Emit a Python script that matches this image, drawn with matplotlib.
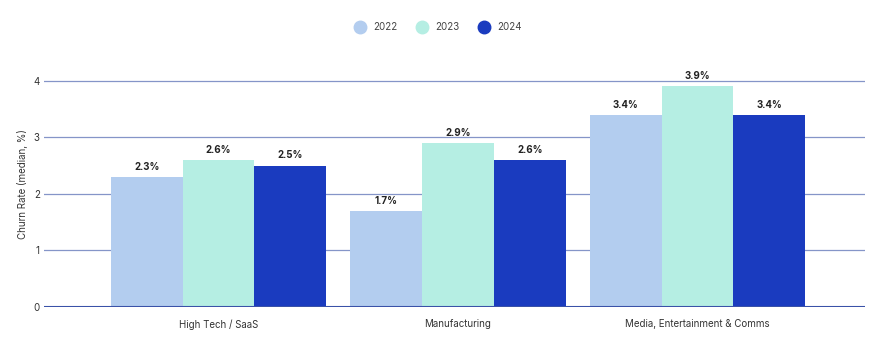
import numpy as np
import matplotlib.pyplot as plt
from matplotlib.lines import Line2D

plt.rcParams['font.family'] = ['Inter', 'DejaVu Sans']

categories = ['High Tech / SaaS', 'Manufacturing', 'Media, Entertainment & Comms']
years = ['2022', '2023', '2024']
v2022 = [2.3, 1.7, 3.4]
v2023 = [2.6, 2.9, 3.9]
v2024 = [2.5, 2.6, 3.4]
colors = ['#b3cdef', '#b5eee3', '#1a3bbf']

fig = plt.figure(figsize=(8.72, 3.39), dpi=100)
ax = fig.add_axes([0.0505, 0.0944, 0.9415, 0.726])

x = np.arange(len(categories))
w = 0.30
for i, (vals, c) in enumerate(zip([v2022, v2023, v2024], colors)):
    pos = x + (i - 1) * w
    ax.bar(pos, vals, width=w, color=c, zorder=3)
    for p, v in zip(pos, vals):
        ax.text(p, v + 0.09, '{:.1f}%'.format(v), ha='center', va='bottom',
                fontsize=7, fontweight='bold', color='#222222', zorder=4)

ax.set_xlim(-0.729, 2.70)
ax.set_ylim(0, 4.35)
ax.set_yticks([0, 1, 2, 3, 4])
ax.set_xticks(x)
ax.set_xticklabels(categories)
ax.tick_params(axis='both', length=0, labelsize=7, colors='#333333')
ax.tick_params(axis='y', pad=3)
ax.tick_params(axis='x', pad=9)
ax.grid(axis='y', color='#8595c8', linewidth=0.9, zorder=0)
for s in ax.spines.values():
    s.set_visible(False)
ax.axhline(0, color='#3a52a8', linewidth=1.5, zorder=5)
ax.set_ylabel('Churn Rate (median, %)', fontsize=7, color='#333333', labelpad=4)

handles = [Line2D([], [], marker='o', linestyle='', markersize=9, color=c) for c in colors]
fig.legend(handles, years, loc='center', bbox_to_anchor=(0.5, 0.92), ncol=3,
           frameon=False, fontsize=7, handletextpad=0.3, columnspacing=1.6,
           labelcolor='#444444')

fig.savefig('out.png', dpi=100)
